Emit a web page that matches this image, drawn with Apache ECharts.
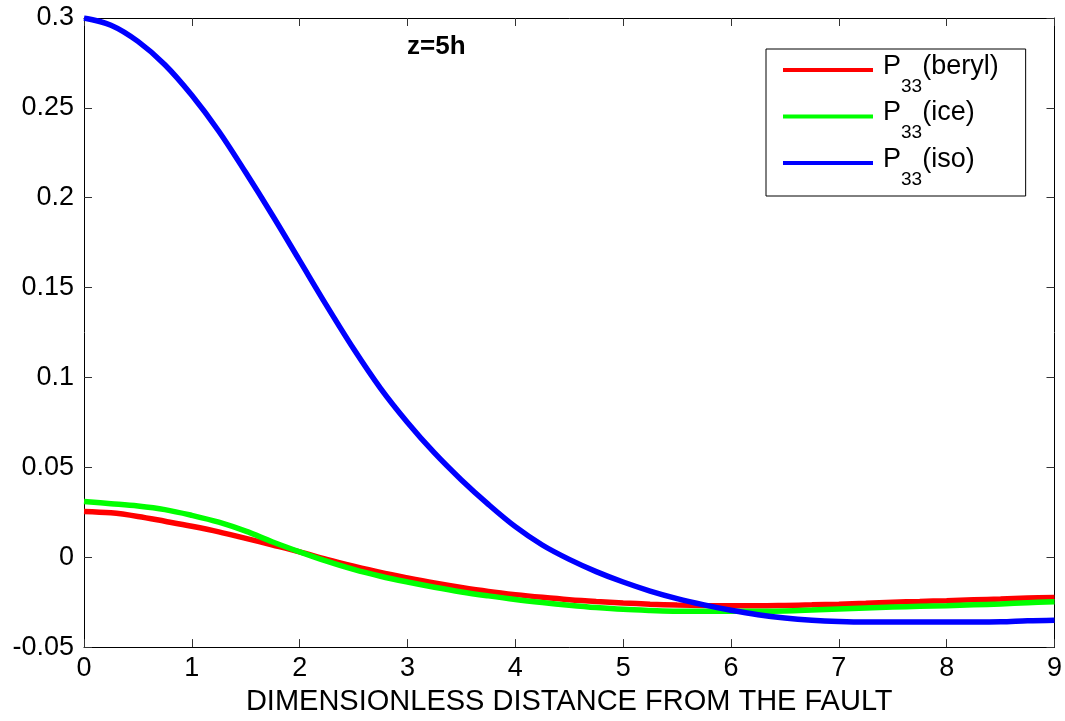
<!DOCTYPE html>
<html>
<head>
<meta charset="utf-8">
<script src="https://cdn.jsdelivr.net/npm/echarts@6/dist/echarts.min.js"></script>
<style>
html,body{margin:0;padding:0;background:#fff;}
#chart{width:1065px;height:721px;}
</style>
</head>
<body>
<div id="chart"></div>
<script>
// ---- data ----
const xValues = [0,0.25,0.5,0.75,1,1.25,1.5,1.75,2,2.25,2.5,2.75,3,3.25,3.5,3.75,4,4.25,4.5,4.75,5,5.25,5.5,5.75,6,6.25,6.5,6.75,7,7.25,7.5,7.75,8,8.25,8.5,8.75,9];
const berylValues = [0.0255,0.0247,0.0227,0.0200,0.0172,0.0141,0.0105,0.0068,0.0030,-0.0012,-0.0050,-0.0085,-0.0115,-0.0143,-0.0168,-0.0190,-0.0208,-0.0223,-0.0236,-0.0246,-0.0254,-0.0261,-0.0266,-0.0269,-0.0270,-0.0270,-0.0268,-0.0265,-0.0261,-0.0256,-0.0250,-0.0246,-0.0242,-0.0237,-0.0232,-0.0227,-0.0224];
const iceValues = [0.0310,0.0298,0.0285,0.0265,0.0233,0.0195,0.0145,0.0085,0.0030,-0.0022,-0.0068,-0.0106,-0.0138,-0.0167,-0.0193,-0.0215,-0.0235,-0.0252,-0.0267,-0.0280,-0.0290,-0.0296,-0.0300,-0.0300,-0.0300,-0.0300,-0.0299,-0.0294,-0.0288,-0.0282,-0.0277,-0.0273,-0.0270,-0.0265,-0.0260,-0.0253,-0.0248];
const isoValues = [0.300,0.296,0.287,0.274,0.257,0.237,0.214,0.190,0.165,0.140,0.116,0.094,0.075,0.0580,0.0430,0.0294,0.0170,0.0068,-0.0012,-0.0080,-0.0138,-0.0188,-0.0230,-0.0265,-0.0295,-0.0320,-0.0338,-0.0350,-0.0357,-0.0360,-0.0360,-0.0360,-0.0360,-0.0360,-0.0359,-0.0353,-0.0350];
const xTickLabels = ['0','1','2','3','4','5','6','7','8','9'];
const yTickLabels = ['-0.05','0','0.05','0.1','0.15','0.2','0.25','0.3'];
const seriesNames = ['beryl','ice','iso'];
const seriesColors = ['#ff0000','#00ff00','#0000ff'];
const titleText = 'z=5h';
const xAxisName = 'DIMENSIONLESS DISTANCE FROM THE FAULT';

const FONT = '"Liberation Sans", Arial, Helvetica, sans-serif';
function pairs(ys){ return xValues.map((x,i)=>[x, ys[i]]); }
const allValues = [berylValues, iceValues, isoValues];

const chart = echarts.init(document.getElementById('chart'), null, {renderer:'canvas'});
const axisLineStyle = {color:'#000', width:1};
const tickStyle = {show:true, inside:true, length:8, lineStyle:{color:'#333', width:1}};

chart.setOption({
  backgroundColor:'#fff',
  animation:false,
  title:{
    text:titleText, left:407, top:34, padding:0,
    textStyle:{fontFamily:FONT, fontWeight:'bold', fontSize:26, color:'#000'}
  },
  legend:{
    orient:'vertical', left:766, top:49,
    padding:[4,27,7,17],
    itemGap:3.5,
    itemWidth:90, itemHeight:4, icon:'rect',
    borderColor:'#000', borderWidth:1, backgroundColor:'#fff',
    data:seriesNames.map(n=>'P33(' + n + ')'),
    formatter:function(name){
      const m = name.match(/^P33\((.*)\)$/);
      return '{p0|P}{s|33}{p|(' + m[1] + ')}';
    },
    textStyle:{
      fontFamily:FONT, color:'#000',
      rich:{
        p0:{fontFamily:FONT, fontSize:27, lineHeight:34, verticalAlign:'top', color:'#000', padding:[0,0,0,5]},
        p:{fontFamily:FONT, fontSize:27, lineHeight:34, verticalAlign:'top', color:'#000'},
        s:{fontFamily:FONT, fontSize:19, lineHeight:19, verticalAlign:'top', color:'#000', padding:[24,0,0,0]}
      }
    }
  },
  grid:{left:84, right:9, top:18, bottom:67, containLabel:false},
  xAxis:[{
    type:'value', min:0, max:9, interval:1, position:'bottom',
    axisLine:{show:true, onZero:false, lineStyle:axisLineStyle},
    axisTick:tickStyle,
    splitLine:{show:false},
    axisLabel:{show:true, margin:8, color:'#000', fontFamily:FONT, fontSize:27,
      formatter:function(v, i){ return xTickLabels[i]; }},
    name:xAxisName, nameLocation:'middle', nameGap:33,
    nameTextStyle:{fontFamily:FONT, fontSize:29, color:'#000'}
  },{
    type:'value', min:0, max:9, interval:1, position:'top',
    axisLine:{show:true, onZero:false, lineStyle:axisLineStyle},
    axisTick:tickStyle, axisLabel:{show:false}, splitLine:{show:false}
  }],
  yAxis:[{
    type:'value', min:-0.05, max:0.3, interval:0.05, position:'left',
    axisLine:{show:true, onZero:false, lineStyle:axisLineStyle},
    axisTick:tickStyle,
    splitLine:{show:false},
    axisLabel:{show:true, margin:10, color:'#000', fontFamily:FONT, fontSize:27,
      formatter:function(v, i){ return yTickLabels[i]; }}
  },{
    type:'value', min:-0.05, max:0.3, interval:0.05, position:'right',
    axisLine:{show:true, onZero:false, lineStyle:axisLineStyle},
    axisTick:tickStyle, axisLabel:{show:false}, splitLine:{show:false}
  }],
  series:seriesNames.map((n, k)=>({
    name:'P33(' + n + ')', type:'line', xAxisIndex:0, yAxisIndex:0,
    data:pairs(allValues[k]), showSymbol:false, symbol:'none',
    smooth:0.35,
    lineStyle:{color:seriesColors[k], width:5.5},
    itemStyle:{color:seriesColors[k]}
  }))
});
</script>
</body>
</html>
